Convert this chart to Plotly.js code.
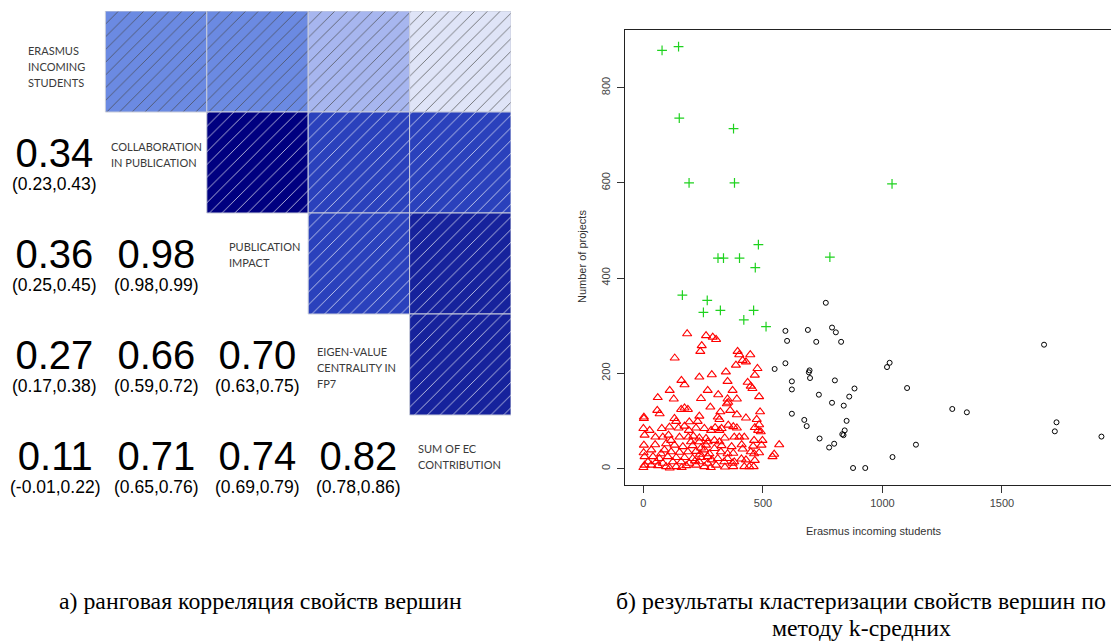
<!DOCTYPE html>
<html><head><meta charset="utf-8">
<script src="https://cdn.plot.ly/plotly-3.0.1.min.js"></script>
<style>html,body{margin:0;padding:0;background:#fff;}#chart{width:1111px;height:641px;}</style>
</head><body><div id="chart"></div>
<script>
// ---------- DATA: rank correlation matrix ----------
const variableLabels = [
  ['ERASMUS', 'INCOMING', 'STUDENTS'],
  ['COLLABORATION', 'IN PUBLICATION'],
  ['PUBLICATION', 'IMPACT'],
  ['EIGEN-VALUE', 'CENTRALITY IN', 'FP7'],
  ['SUM OF EC', 'CONTRIBUTION']
];
const pairA  = [0, 0, 0, 0, 1, 1, 1, 2, 2, 3];
const pairB  = [1, 2, 3, 4, 2, 3, 4, 3, 4, 4];
const rho    = [0.34, 0.36, 0.27, 0.11, 0.98, 0.66, 0.71, 0.70, 0.74, 0.82];
const ciLow  = [0.23, 0.25, 0.17, -0.01, 0.98, 0.59, 0.65, 0.63, 0.69, 0.78];
const ciHigh = [0.43, 0.45, 0.38, 0.22, 0.99, 0.72, 0.76, 0.75, 0.79, 0.86];

// ---------- DATA: k-means clusters ----------
const greenX = [78,147,150,377,191,381,1040,481,312,335,402,780,468,163,267,251,322,461,420,513];
const greenY = [878,886,736,714,600,600,598,470,442,442,442,444,422,364,353,328,332,332,312,298];

const redX = [183,262,290,304,244,238,394,401,447,131,415,429,387,477,345,286,234,466,159,352,436,172,449,456,373,110,269,313,484,60,127,241,352,391,
172,158,186,58,2,2,130,137,192,234,227,109,147,172,220,255,0,26,5,81,151,188,234,262,2,49,95,130,165,206,241,88,116,151,186,220,255,5,40,67,102,137,172,206,241,269,5,33,61,95,137,179,220,255,19,54,81,123,158,192,234,0,74,199,234,262,33,116,276,68,
355,349,280,322,363,391,488,429,474,311,318,355,391,484,480,491,283,318,327,380,401,422,463,498,297,269,318,568,415,449,463,484,547,540,297,324,352,311,352,380,429,422,443,461,269,304,338,373,
77,190,300,376,466,50,105,209,340,327,369,411,459,494,1,237,376,286,466,410,216,341,376,282,110,160];
const redY = [283,279,276,271,258,246,246,239,239,232,227,224,217,210,203,197,192,196,185,183,181,176,173,168,164,164,164,155,151,149,146,147,146,146,
127,124,124,122,108,105,105,99,98,110,99,87,85,89,85,84,84,80,70,66,66,66,64,63,49,50,52,49,46,48,43,39,35,34,35,36,39,25,25,21,25,23,23,21,23,25,7,7,6,4,4,6,7,4,14,14,11,14,14,11,14,2,31,56,56,49,39,59,31,115,
139,136,129,119,122,113,119,106,103,108,103,91,85,92,80,77,80,80,84,66,66,66,59,59,59,56,56,50,41,35,31,33,30,25,42,35,31,21,21,14,18,4,4,4,11,7,14,11,
84,80,86,88,86,66,70,68,64,48,46,50,47,49,33,30,32,18,17,20,16,3,4,2,1,2];

const blackX = [763,594,688,789,805,601,723,827,594,549,695,692,697,621,801,621,883,734,861,789,838,621,673,850,683,842,832,837,737,798,777,877,928,1019,1030,1103,1140,1042,1292,1353,1676,1728,1721,1916];
const blackY = [348,289,291,296,286,268,266,266,221,209,206,202,190,183,185,166,168,155,151,138,132,115,102,100,89,80,72,70,63,52,44,1,1,213,222,169,50,24,125,118,260,97,78,67];

const xTickVals = [0, 500, 1000, 1500];
const yTickVals = [0, 200, 400, 600, 800];
const xTitle = 'Erasmus incoming students';
const yTitle = 'Number of projects';
const captionA = 'а) ранговая корреляция свойств вершин';
const captionB1 = 'б) результаты кластеризации свойств вершин по';
const captionB2 = 'методу k-средних';

// ---------- STYLE ----------
const W = 1111, H = 641;
function cellColor(v) {
  if (v < 0.2) return '#dfe4f7';
  if (v < 0.3) return '#a7b6ef';
  if (v < 0.5) return '#6b8ae2';
  if (v < 0.72) return '#2a41bc';
  if (v < 0.9) return '#16229c';
  return '#000080';
}
const labelLeftPx = [26, 109, 227, 315, 416];
const labelFirstLinePx = [50, 146, 246, 351, 448];
const labelLineStep = 16.3;

const sans = 'Liberation Sans, Arial, sans-serif';
const serif = 'Liberation Serif, Times New Roman, serif';

const traces = [];
// correlation cells (upper triangle)
traces.push({
  type: 'bar', xaxis: 'x2', yaxis: 'y2',
  x: pairB, base: pairA.map(a => a - 0.5), y: pairA.map(() => 1), width: pairA.map(() => 1),
  marker: {
    color: rho.map(cellColor),
    line: {color: '#c8ccda', width: 1},
    pattern: {shape: '/', fillmode: 'overlay', fgcolor: '#ffffff', fgopacity: 0.75, size: 9, solidity: 0.1}
  },
  hoverinfo: 'skip', showlegend: false
});
traces.push({
  type: 'scatter', mode: 'markers', x: blackX, y: blackY,
  marker: {symbol: 'circle-open', size: 5, color: '#000', line: {width: 1, color: '#000'}},
  showlegend: false, hoverinfo: 'skip'
});
traces.push({
  type: 'scatter', mode: 'markers', x: redX, y: redY,
  marker: {symbol: 'triangle-up-open', size: 8, color: '#ff0000', line: {width: 1.1, color: '#ff0000'}},
  showlegend: false, hoverinfo: 'skip'
});
traces.push({
  type: 'scatter', mode: 'markers', x: greenX, y: greenY,
  marker: {symbol: 'cross-thin-open', size: 7, color: '#1fd21f', line: {width: 1.2, color: '#1fd21f'}},
  showlegend: false, hoverinfo: 'skip'
});

const annotations = [];
// numbers with confidence intervals in lower triangle
for (let k = 0; k < rho.length; k++) {
  annotations.push({xref: 'x2', yref: 'y2', x: pairA[k], y: pairB[k], yshift: 0,
    text: '<span style="font-size:40px">' + rho[k].toFixed(2) + '</span><br>(' +
          ciLow[k].toFixed(2) + ',' + ciHigh[k].toFixed(2) + ')',
    showarrow: false, xanchor: 'center', yanchor: 'middle', align: 'center',
    font: {family: sans, size: 17.5, color: '#000'}});
}
// variable labels on the diagonal
variableLabels.forEach((lines, i) => {
  lines.forEach((ln, j) => {
    annotations.push({xref: 'paper', yref: 'paper', x: labelLeftPx[i] / W,
      y: 1 - (labelFirstLinePx[i] + j * labelLineStep) / H, text: ln, showarrow: false,
      xanchor: 'left', yanchor: 'middle', font: {family: 'Lato, Open Sans, sans-serif', size: 11, color: '#3a3a3a'}});
  });
});
// axis titles of scatter
annotations.push({xref: 'paper', yref: 'paper', x: 874 / W, y: 1 - 531 / H, text: xTitle, showarrow: false,
  xanchor: 'center', yanchor: 'middle', font: {family: sans, size: 11, color: '#333'}});
annotations.push({xref: 'paper', yref: 'paper', x: 582 / W, y: 1 - 257 / H, text: yTitle, showarrow: false,
  textangle: -90, xanchor: 'center', yanchor: 'middle', font: {family: sans, size: 11, color: '#333'}});
// captions
annotations.push({xref: 'paper', yref: 'paper', x: 260 / W, y: 1 - 601 / H, text: captionA, showarrow: false,
  xanchor: 'center', yanchor: 'middle', font: {family: serif, size: 23.8, color: '#000'}});
annotations.push({xref: 'paper', yref: 'paper', x: 861 / W, y: 1 - 601 / H, text: captionB1, showarrow: false,
  xanchor: 'center', yanchor: 'middle', font: {family: serif, size: 23.8, color: '#000'}});
annotations.push({xref: 'paper', yref: 'paper', x: 861 / W, y: 1 - 628 / H, text: captionB2, showarrow: false,
  xanchor: 'center', yanchor: 'middle', font: {family: serif, size: 23.8, color: '#000'}});

const layout = {
  width: W, height: H,
  margin: {l: 0, r: 0, t: 0, b: 0},
  paper_bgcolor: '#fff', plot_bgcolor: 'rgba(0,0,0,0)',
  showlegend: false, hovermode: false, barmode: 'overlay',
  xaxis: {domain: [625 / W, 1], range: [-77, 1956], showgrid: false, zeroline: false,
    showline: true, mirror: true, linecolor: '#222', linewidth: 1.3,
    ticks: 'outside', ticklen: 7, tickwidth: 1, tickcolor: '#333',
    tickvals: xTickVals, ticktext: xTickVals.map(String),
    tickfont: {family: sans, size: 11, color: '#444'}},
  yaxis: {domain: [1 - 485 / H, 1 - 30 / H], range: [-34.7, 921], showgrid: false, zeroline: false,
    showline: true, mirror: false, linecolor: '#222', linewidth: 1.3,
    ticks: 'outside', ticklen: 7, tickwidth: 1, tickcolor: '#333',
    tickvals: yTickVals, ticktext: yTickVals.map(String), tickangle: -90, ticklabelstandoff: 2,
    tickfont: {family: sans, size: 11, color: '#444'}},
  xaxis2: {domain: [4 / W, 511 / W], range: [-0.5, 4.5], visible: false, fixedrange: true},
  yaxis2: {domain: [1 - 516 / H, 1 - 11 / H], range: [4.5, -0.5], visible: false, fixedrange: true},
  annotations: annotations
};

Plotly.newPlot('chart', traces, layout, {staticPlot: true, displayModeBar: false});
</script>
</body></html>
